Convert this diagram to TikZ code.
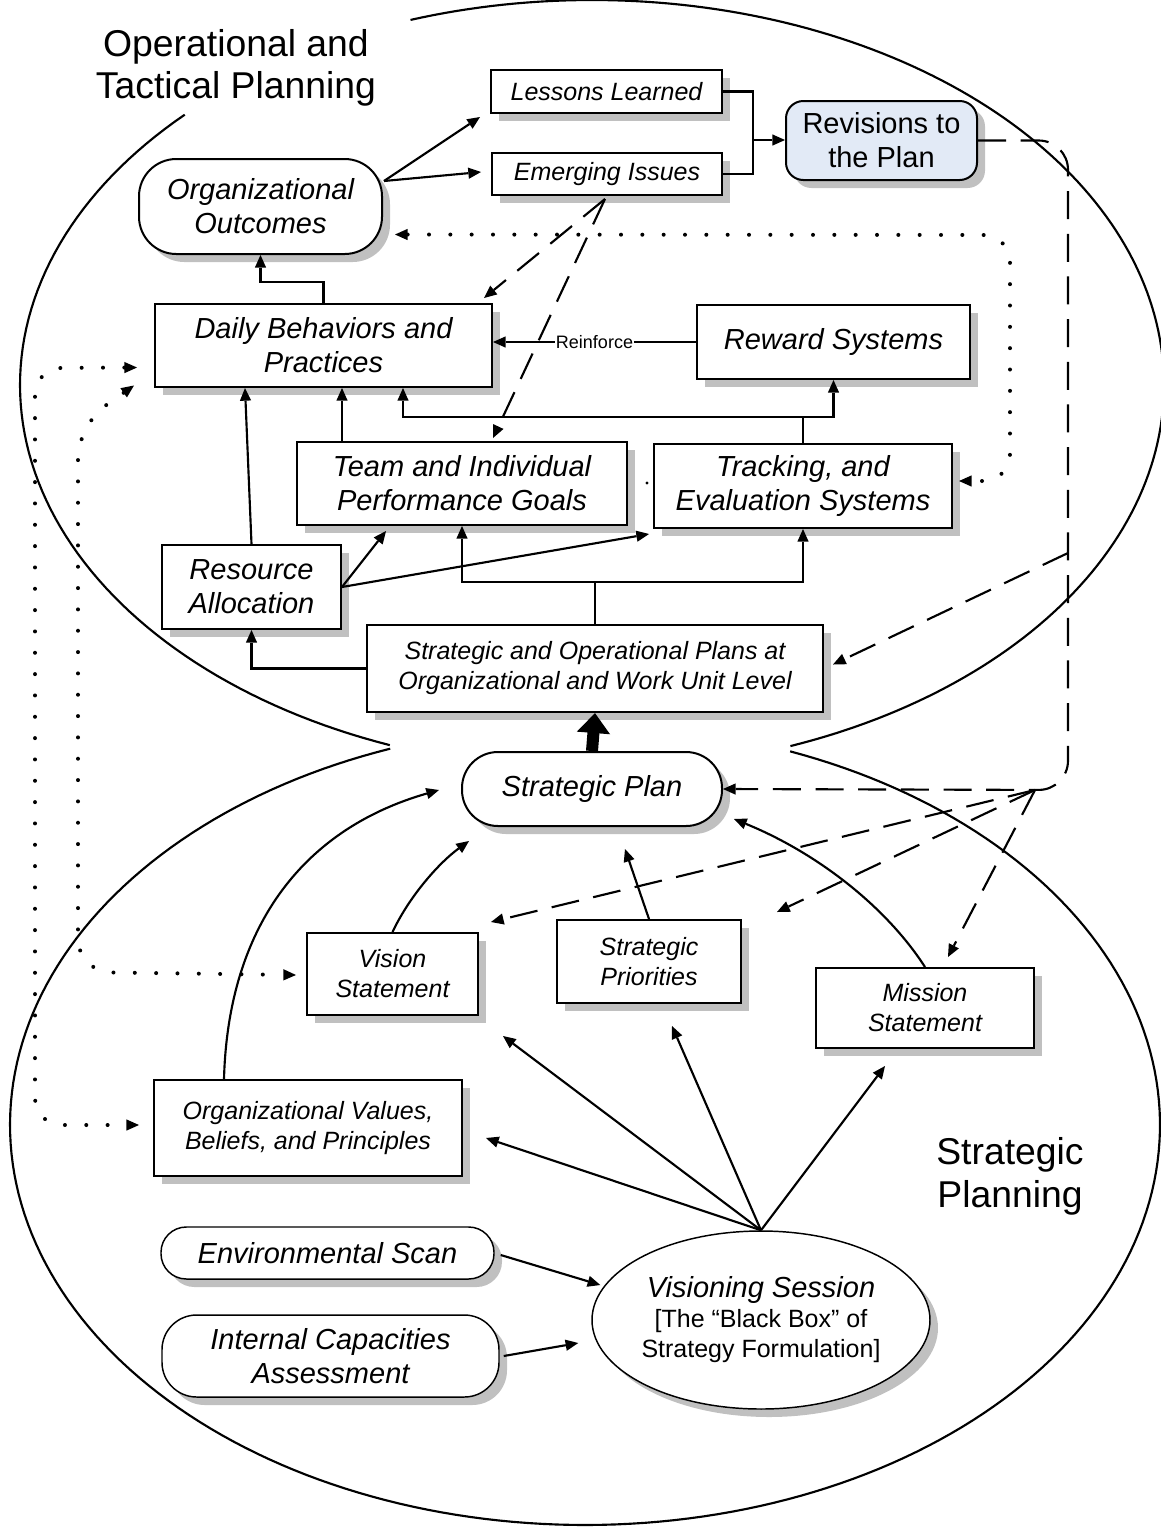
\documentclass[tikz,border=0pt]{standalone}
\usepackage{fontspec}
\setmainfont{Liberation Sans}
\usetikzlibrary{arrows.meta,shadows,calc,shapes.geometric}
\definecolor{shadowc}{RGB}{192,192,192}
\definecolor{revfill}{RGB}{226,234,246}
\tikzset{
 bx/.style={draw, line width=1.5pt, fill=white, inner sep=0pt, align=center,
   general shadow={fill=shadowc, shadow xshift=6pt, shadow yshift=-6pt}},
 thinbx/.style={bx, line width=1.1pt},
 sz/.style 2 args={minimum width=#1*0.75pt, minimum height=#2*0.75pt},
 bigf/.style={font=\fontsize{21.75pt}{25.5pt}\selectfont\itshape},
 medf/.style={font=\fontsize{18.75pt}{22.5pt}\selectfont\itshape},
 tip/.tip={Triangle[length=9.5pt,width=8.5pt,line width=0pt]},
 arr/.style={line width=1.6pt, -tip},
 dsh/.style={line width=1.6pt, dash pattern=on 21pt off 11pt},
 dotl/.style={line width=3pt, line cap=round, dash pattern=on 0pt off 16pt},
 outl/.style={line width=1.6pt},
}
\begin{document}
\begin{tikzpicture}[x=0.75pt,y=-0.75pt]
\useasboundingbox (0,0) rectangle (1161,1529);
% big outlines
\draw[outl] plot[domain=251.5:429.7, samples=150] ({592+572*cos(\x)},{385+385*sin(\x)});
\draw[outl] plot[domain=110.7:224.6, samples=80] ({592+572*cos(\x)},{385+385*sin(\x)});
\draw[outl] plot[domain=-69.1:250.2, samples=220] ({585+575*cos(\x)},{1125+400*sin(\x)});

% titles
\node[font=\fontsize{28pt}{32pt}\selectfont, align=center] (ttl1) at (236,68) {Operational and\\Tactical Planning};
\node[font=\fontsize{28pt}{32pt}\selectfont, align=center] (ttl2) at (1010,1176) {Strategic\\Planning};

% nodes
\node[bx,sz={231}{43},medf] (lessons) at (606.5,91.5) {Lessons Learned};
\node[bx,sz={230}{42},medf] (emerging) at (607,174) {Emerging Issues};
\node[bx,sz={191}{79},rounded corners=13pt,fill=revfill,font=\fontsize{21.75pt}{25.5pt}\selectfont] (revisions) at (881.5,140.5) {Revisions to\\the Plan};
\node[bx,sz={243}{95},rounded corners=28pt,bigf] (outcomes) at (260.5,206.5) {Organizational\\Outcomes};
\node[bx,sz={337}{83},bigf] (daily) at (323.5,345.5) {Daily Behaviors and\\Practices};
\node[bx,sz={273}{74},bigf] (reward) at (833.5,342) {Reward Systems};
\node[bx,sz={330}{83},bigf] (team) at (462,483.5) {Team and Individual\\Performance Goals};
\node[bx,sz={298}{84},bigf] (tracking) at (803,486) {Tracking, and\\Evaluation Systems};
\node[bx,sz={179}{84},bigf] (resource) at (251.5,587) {Resource\\Allocation};
\node[bx,sz={456}{87},medf] (soplans) at (595,668.5) {Strategic and Operational Plans at\\Organizational and Work Unit Level};
\node[bx,sz={260}{74},rounded corners=27pt,bigf] (splan) at (592,789) {Strategic Plan};
\node[bx,sz={171}{82},medf] (vision) at (392.5,974) {Vision\\Statement};
\node[bx,sz={184}{83},medf] (priorities) at (649,961.5) {Strategic\\Priorities};
\node[bx,sz={218}{80},medf] (mission) at (925,1008) {Mission\\Statement};
\node[bx,sz={308}{96},medf] (values) at (308,1128) {Organizational Values,\\Beliefs, and Principles};
\node[thinbx,sz={333}{52},rounded corners=19pt,bigf] (envscan) at (327.5,1253) {Environmental Scan};
\node[thinbx,sz={337}{82},rounded corners=26pt,bigf] (internal) at (330.5,1356) {Internal Capacities\\Assessment};
\node[thinbx,ellipse,sz={330}{178},font=\fontsize{18.75pt}{22.5pt}\selectfont] (visioning) at (761,1320)
  {{\fontsize{21.75pt}{22.5pt}\selectfont\itshape Visioning Session}\\{[}The “Black Box” of\\Strategy Formulation]};

% top right cluster
\draw[arr] ($(outcomes.north east)+(1,23)$) -- ($(lessons.south west)+(-10,3)$);
\draw[arr] ($(outcomes.north east)+(1,23)$) -- ($(emerging.west)+(-10,-2)$);
\coordinate (jn) at (753,140);
\draw[line width=1.6pt] (lessons.east) -| (jn) |- (emerging.east);
\draw[arr] (jn) -- (revisions.west |- jn);

% revisions dashed loop
\draw[dsh, rounded corners=22pt, -tip] (revisions.east) -| (1068,790) -- (splan.east);
\coordinate (hub) at (1035,790);
\draw[dsh, -tip] (1068,553) -- ($(soplans.east)+(9,-4)$);
\draw[dsh, -tip] (hub) -- ($(vision.north east)+(12,-10)$);
\draw[dsh, -tip] (hub) -- ($(priorities.north east)+(35,-7)$);
\draw[dsh, -tip] (hub) -- ($(mission.north)+(23,-10)$);

% emerging issues dashed
\draw[dsh, -tip] ($(emerging.south)+(-2,3)$) -- ($(daily.north east)+(-9,-5)$);
\draw[dsh, -tip] ($(emerging.south)+(-2,3)$) -- ($(team.north)+(31,-3)$);

% middle connectors
\draw[arr] (daily.north) -- ++(0,-21) -| (outcomes.south);
\draw[arr] (reward.west) -- (daily.east |- reward.west)
  node[midway, fill=white, inner sep=1pt, font=\fontsize{13.5pt}{15pt}\selectfont] (reinf) {Reinforce};
\draw[arr] ($(team.north west)+(46,0)$) -- ($(daily.south west)+(188,0)$);
\coordinate (tjL) at (403,417);
\coordinate (tjR) at (833.5,417);
\draw[arr] (tracking.north) -- (tracking.north |- tjR) -- (tjR) -- (reward.south);
\draw[arr] (tracking.north |- tjR) -- (tjL) -- (daily.south -| tjL);
\draw[arr] (resource.north) -- ($(daily.south west)+(91,0)$);
\draw[arr] (resource.east) -- ($(team.south west)+(90,5)$);
\draw[arr] (resource.east) -- ($(tracking.south west)+(-4,5)$);
\coordinate (sj) at (595,582);
\draw[line width=1.6pt] (soplans.north) -- (sj);
\draw[arr] (sj) -| (team.south);
\draw[arr] (sj) -| (tracking.south);
\draw[arr] (soplans.west) -| (resource.south);
\draw[line width=9pt, -{Triangle[length=15pt,width=24pt]}] (splan.north) -- (soplans.south);
\fill (647,483) circle (1.3pt);

% dotted connectors
\draw[dotl, rounded corners=20pt, tip-tip] ($(outcomes.east)+(12,28)$) -- (1010,235) -- (1010,481) -- ($(tracking.east)+(6,-5)$);
\draw[dotl, rounded corners=20pt, tip-tip] ($(daily.west)+(-17,22)$) -- (35,368) -- (35,1125) -- ($(values.west)+(-14,-3)$);
\draw[dotl, rounded corners=25pt, tip-tip] ($(daily.west)+(-20,40)$) -- (78,425) -- (78,972) -- ($(vision.west)+(-10,1)$);

% into strategic plan
\draw[arr] ($(values.north west)+(71,0)$) .. controls (228,930) and (300,830) .. ($(splan.west)+(-22,1)$);
\draw[arr] (vision.north) .. controls (410,895) and (440,862) .. ($(splan.south west)+(8,14)$);
\draw[arr] (priorities.north) -- ($(splan.south)+(33,22)$);
\draw[arr] (mission.north) .. controls (885,905) and (815,852) .. ($(splan.south east)+(11,-8)$);

% visioning session outputs
\draw[arr] (visioning.north) -- ($(values.east)+(23,10)$);
\draw[arr] (visioning.north) -- ($(vision.south east)+(24,20)$);
\draw[arr] (visioning.north) -- ($(priorities.south)+(23,22)$);
\draw[arr] (visioning.north) -- ($(mission.south)+(-40,17)$);
\draw[arr] ($(envscan.east)+(6,2)$) -- ($(visioning.west)+(9,-35)$);
\draw[arr] ($(internal.east)+(4,0)$) -- ($(visioning.west)+(-13,23)$);
\end{tikzpicture}
\end{document}
